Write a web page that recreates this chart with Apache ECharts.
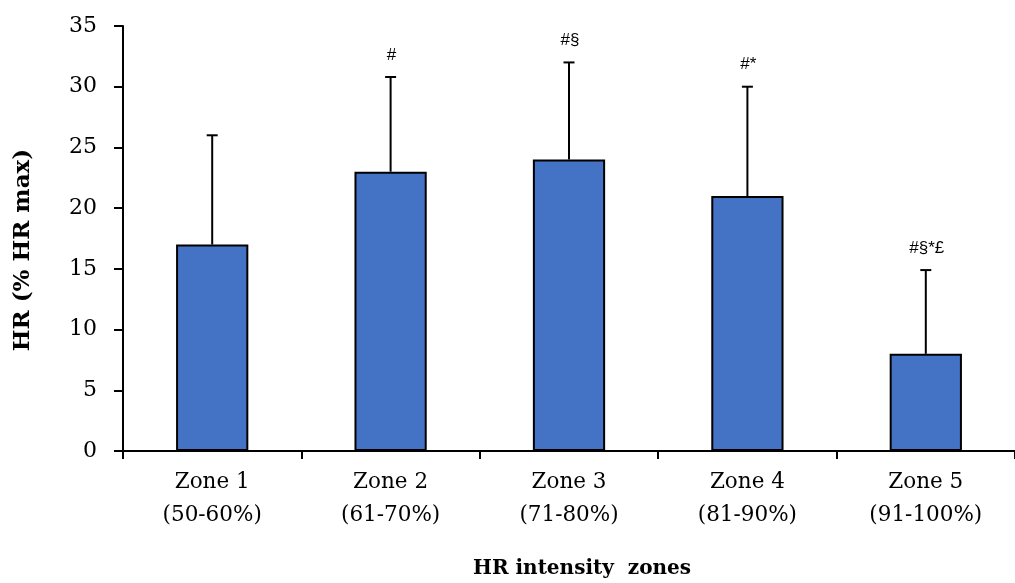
<!DOCTYPE html>
<html>
<head>
<meta charset="utf-8">
<script src="https://cdn.jsdelivr.net/npm/echarts@6/dist/echarts.min.js"></script>
<style>html,body{margin:0;padding:0;background:#fff}#c{width:1015px;height:583px}</style>
</head>
<body>
<div id="c"></div>
<script>
var categories = ['Zone 1\n(50-60%)', 'Zone 2\n(61-70%)', 'Zone 3\n(71-80%)', 'Zone 4\n(81-90%)', 'Zone 5\n(91-100%)'];
var means = [17, 23, 24, 21, 8];
var sds = [9, 7.8, 8, 9, 6.9];
var annotations = ['', '#', '#§', '#*', '#§*£'];
var yTicks = [0, 5, 10, 15, 20, 25, 30, 35];

var serif = 'DejaVu Serif';
var chart = echarts.init(document.getElementById('c'), null, {renderer: 'canvas'});
var errData = means.map(function (m, i) { return [i, m, sds[i]]; });

chart.setOption({
  animation: false,
  backgroundColor: '#ffffff',
  grid: {left: 123, top: 26, width: 901, height: 425, containLabel: false},
  xAxis: {
    type: 'category',
    data: categories,
    axisLine: {lineStyle: {color: '#000', width: 2}},
    axisTick: {show: true, length: 8, lineStyle: {color: '#000', width: 2}},
    axisLabel: {color: '#000', fontFamily: serif, fontSize: 21.5, lineHeight: 33, margin: 15, interval: 0}
  },
  yAxis: {
    type: 'value',
    min: yTicks[0], max: yTicks[yTicks.length - 1], interval: 5,
    axisLine: {show: true, lineStyle: {color: '#000', width: 2}},
    axisTick: {show: true, length: 9, lineStyle: {color: '#000', width: 2}},
    splitLine: {show: false},
    axisLabel: {color: '#000', fontFamily: serif, fontSize: 22, margin: 26}
  },
  graphic: [
    {type: 'text', x: 23, y: 250, rotation: Math.PI / 2,
     style: {text: 'HR (% HR max)', font: 'bold 23px "DejaVu Serif"', fill: '#000', textAlign: 'center', textVerticalAlign: 'middle'}},
    {type: 'text', x: 582, y: 569,
     style: {text: 'HR intensity  zones', font: 'bold 20px "DejaVu Serif"', fill: '#000', textAlign: 'center', textVerticalAlign: 'middle'}}
  ],
  series: [
    {
      type: 'bar',
      data: means,
      barWidth: '40.5%',
      itemStyle: {color: '#4472C4', borderColor: '#000', borderWidth: 2},
      z: 2
    },
    {
      type: 'custom',
      data: errData,
      z: 3,
      renderItem: function (params, api) {
        var idx = api.value(0), m = api.value(1), sd = api.value(2);
        var base = api.coord([idx, m]);
        var top = api.coord([idx, m + sd]);
        var cw = 5.5;
        return {
          type: 'group',
          children: [
            {type: 'line', shape: {x1: base[0], y1: base[1], x2: top[0], y2: top[1]}, style: {stroke: '#000', lineWidth: 2}},
            {type: 'line', shape: {x1: top[0] - cw, y1: top[1], x2: top[0] + cw, y2: top[1]}, style: {stroke: '#000', lineWidth: 2}},
            {type: 'text', x: top[0] + 1, y: top[1] - 22,
             style: {text: annotations[params.dataIndex], font: '17px "Liberation Sans"', fill: '#000', textAlign: 'center', textVerticalAlign: 'middle'}}
          ]
        };
      }
    }
  ]
});
</script>
</body>
</html>
